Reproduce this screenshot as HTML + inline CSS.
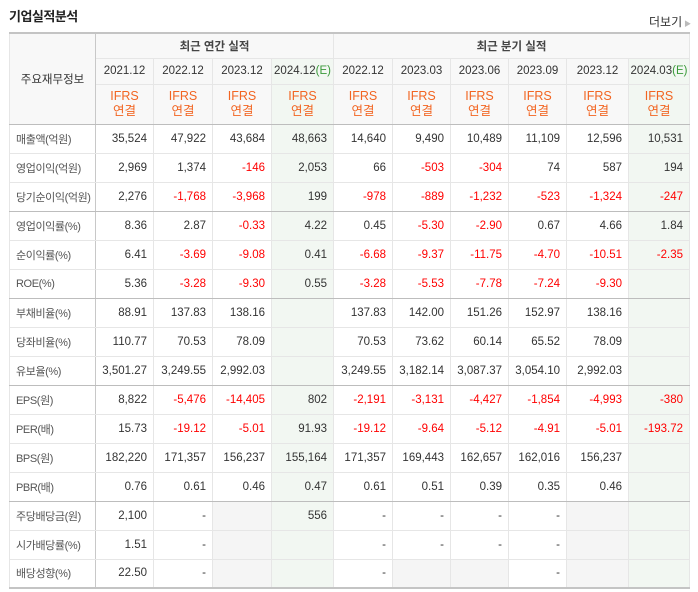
<!DOCTYPE html>
<html><head><meta charset="utf-8"><style>
body{margin:0;width:698px;height:592px;background:#fff;font-family:"Liberation Sans","Noto Sans CJK KR",sans-serif;overflow:hidden;position:relative}
#title{position:absolute;left:9px;top:6px;font-size:13px;font-weight:bold;color:#222;letter-spacing:-0.5px}
#more{position:absolute;left:649px;top:13px;font-size:12px;color:#333}
#more span{font-size:7px;color:#bbb;margin-left:2px}
table{position:absolute;left:9px;top:32px;border-collapse:collapse;table-layout:fixed;width:680px;font-size:11.5px;color:#333}
td,th{border:1px solid #e6e6e6;padding:0 6px 0 0;text-align:right;height:28px;white-space:nowrap;font-weight:normal;box-sizing:border-box}
th{background:#f8f8f8;text-align:center;padding:0;color:#333}
.lab{text-align:left;padding-left:6px;color:#555;background:#fff;letter-spacing:-0.4px;font-size:11px}
.e{background:#f2f7f2}
.g{background:#f5f5f5}
.neg{color:#f00}
.ifrs{color:#f26522;line-height:15px;font-size:12.5px}
.sepL{border-left:1px solid #c8c8c8}
</style></head><body>
<div id="title">기업실적분석</div>
<div id="more">더보기<span>▶</span></div>
<table id="t">
<colgroup><col style="width:86px"><col style="width:58px"><col style="width:59px"><col style="width:59px"><col style="width:62px"><col style="width:59px"><col style="width:58px"><col style="width:58px"><col style="width:58px"><col style="width:62px"><col style="width:61px"></colgroup>
<thead>
<tr style="height:25px"><th rowspan="3" style="border-right:1px solid #c8c8c8;border-top:2px solid #c4c4c4;border-bottom:1px solid #bdbdbd">주요재무정보</th>
<th colspan="4" style="height:25px;border-top:2px solid #c4c4c4;font-weight:bold;color:#444">최근 연간 실적</th>
<th colspan="6" class="sepL" style="height:25px;border-top:2px solid #c4c4c4;font-weight:bold;color:#444">최근 분기 실적</th></tr>
<tr id="dates" style="height:26px"></tr>
<tr id="ifrs" style="height:40px"></tr>
</thead>
<tbody id="body"></tbody>
</table>
<script>
const periods=["2021.12","2022.12","2023.12","2024.12","2022.12","2023.03","2023.06","2023.09","2023.12","2024.03"];
const estimate=[false,false,false,true,false,false,false,false,false,true];
const labels=["매출액(억원)","영업이익(억원)","당기순이익(억원)","영업이익률(%)","순이익률(%)","ROE(%)","부채비율(%)","당좌비율(%)","유보율(%)","EPS(원)","PER(배)","BPS(원)","PBR(배)","주당배당금(원)","시가배당률(%)","배당성향(%)"];
const rowsData=[
["35,524","47,922","43,684","48,663","14,640","9,490","10,489","11,109","12,596","10,531"],
["2,969","1,374","-146","2,053","66","-503","-304","74","587","194"],
["2,276","-1,768","-3,968","199","-978","-889","-1,232","-523","-1,324","-247"],
["8.36","2.87","-0.33","4.22","0.45","-5.30","-2.90","0.67","4.66","1.84"],
["6.41","-3.69","-9.08","0.41","-6.68","-9.37","-11.75","-4.70","-10.51","-2.35"],
["5.36","-3.28","-9.30","0.55","-3.28","-5.53","-7.78","-7.24","-9.30",""],
["88.91","137.83","138.16","","137.83","142.00","151.26","152.97","138.16",""],
["110.77","70.53","78.09","","70.53","73.62","60.14","65.52","78.09",""],
["3,501.27","3,249.55","2,992.03","","3,249.55","3,182.14","3,087.37","3,054.10","2,992.03",""],
["8,822","-5,476","-14,405","802","-2,191","-3,131","-4,427","-1,854","-4,993","-380"],
["15.73","-19.12","-5.01","91.93","-19.12","-9.64","-5.12","-4.91","-5.01","-193.72"],
["182,220","171,357","156,237","155,164","171,357","169,443","162,657","162,016","156,237",""],
["0.76","0.61","0.46","0.47","0.61","0.51","0.39","0.35","0.46",""],
["2,100","-","","556","-","-","-","-","",""],
["1.51","-","","","-","-","-","-","",""],
["22.50","-","","","-","","","-","",""]];
const groupStarts=[3,6,9,13];
const dr=document.getElementById('dates'),ir=document.getElementById('ifrs');
periods.forEach((p,i)=>{
 const th=document.createElement('th');
 
 
 th.innerHTML=p+(estimate[i]?'<span style="color:#3a9a3a">(E)</span>':'');
 th.style.height='26px';
 if(estimate[i])th.style.background='#f2f7f2';
 if(i==4)th.className='sepL';
 dr.appendChild(th);
 const t2=document.createElement('th');
 
 
 t2.innerHTML='<div class="ifrs">IFRS<br>연결</div>';
 t2.style.height='40px';
 t2.style.borderBottom='1px solid #bdbdbd';
 if(estimate[i])t2.style.background='#f2f7f2';
 if(i==4)t2.className='sepL';
 ir.appendChild(t2);
});
const body=document.getElementById('body');
labels.forEach((l,r)=>{
 const tr=document.createElement('tr');
 
 
 tr.style.height='29px';
 const gb=groupStarts.includes(r+1);
 const last=r==labels.length-1;
 const td=document.createElement('td');
 td.className='lab';td.textContent=l;
 
 
 td.style.borderRight='1px solid #c8c8c8';
 td.style.height='29px';
 if(gb)td.style.borderBottom='1px solid #bdbdbd';
 if(last)td.style.borderBottom='2px solid #c4c4c4';
 tr.appendChild(td);
 rowsData[r].forEach((v,i)=>{
  const c=document.createElement('td');
  
  
  c.textContent=v;
  c.style.height='29px';
  let cls=[];
  if(v.startsWith('-')&&v.length>1)cls.push('neg');
  if(estimate[i])cls.push('e');else if(v==='')cls.push('g');
  if(i==4)cls.push('sepL');
  c.className=cls.join(' ');
  if(gb)c.style.borderBottom='1px solid #bdbdbd';
  if(last)c.style.borderBottom='2px solid #c4c4c4';
  tr.appendChild(c);
 });
 body.appendChild(tr);
});
</script>
</body></html>
